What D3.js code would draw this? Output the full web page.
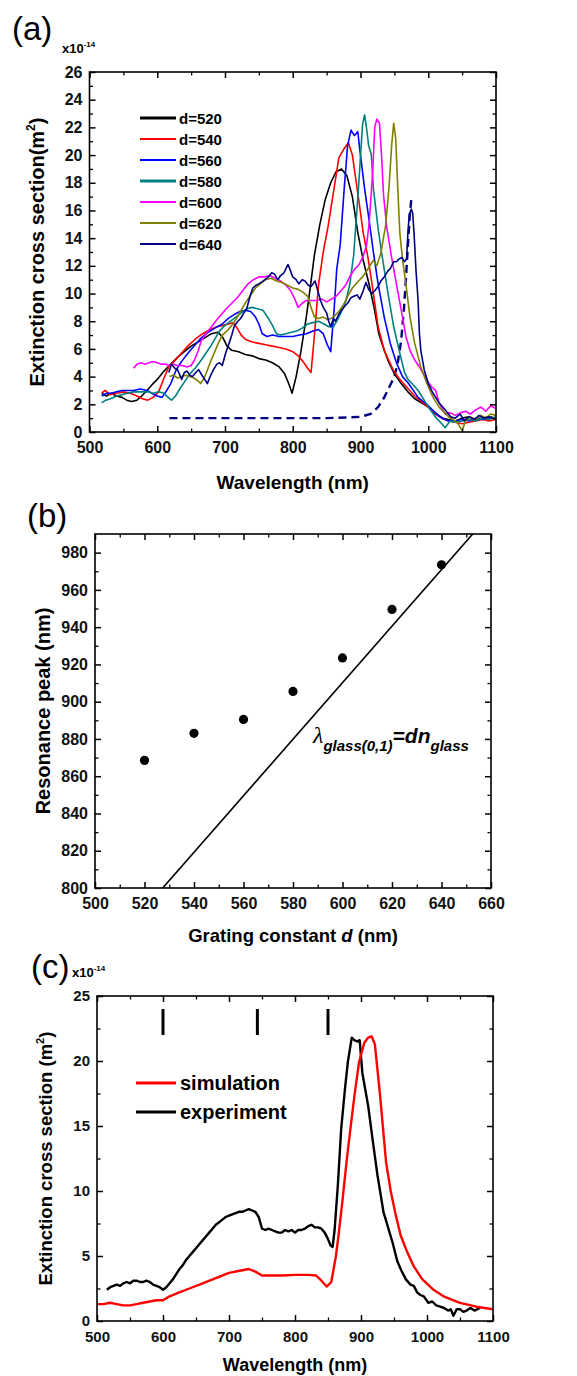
<!DOCTYPE html>
<html lang="en">
<head>
<meta charset="utf-8">
<script src="https://cdn.jsdelivr.net/npm/d3@7"></script>
<style>
  body { margin: 0; background: #fff; }
  svg { display: block; }
  text { font-family: "Liberation Sans", Arial, sans-serif; }
</style>
</head>
<body>
<div id="chart"></div>
<script>
// ---- panel (a): extinction spectra for each grating constant d ----
const seriesNames = ["d=520", "d=540", "d=560", "d=580", "d=600", "d=620", "d=640"];
const seriesColors = ["#000000", "#ff0000", "#0000ff", "#008080", "#ff00ff", "#808000", "#000080"];

const d520 = [[518,2.8],[525,2.6],[532,2.8],[540,2.6],[548,2.5],[555,2.3],[562,2.2],[570,2.3],[577,2.6],[585,3.0],[592,3.4],[600,3.8],[610,4.4],[620,4.9],[630,5.4],[640,5.8],[650,6.2],[660,6.5],[670,6.8],[680,7.1],[690,7.2],[697,6.8],[703,6.2],[710,5.9],[720,5.8],[730,5.6],[740,5.5],[750,5.3],[760,5.2],[770,5.0],[780,4.7],[788,4.2],[794,3.5],[799,2.8],[805,4.0],[812,5.8],[820,8.3],[826,10.5],[832,12.8],[840,15.0],[848,16.8],[856,18.0],[864,18.8],[872,19.0],[880,18.5],[888,17.0],[896,14.4],[904,12.4],[912,10.8],[920,9.0],[927,7.1],[935,5.9],[942,5.0],[950,4.2],[960,3.5],[970,2.9],[980,2.4],[990,2.1],[1000,1.8],[1008,1.5],[1015,1.2],[1022,1.0],[1030,0.9],[1040,0.8],[1050,1.0],[1060,1.1],[1070,0.9],[1080,1.0],[1090,1.1],[1100,1.0]];
const d540 = [[518,2.8],[523,3.0],[530,2.7],[540,2.8],[550,2.9],[560,2.8],[570,2.6],[578,2.4],[586,2.3],[594,2.5],[602,2.9],[610,3.9],[617,4.7],[625,5.1],[634,5.6],[645,6.2],[656,6.7],[667,7.1],[678,7.4],[688,7.6],[697,7.7],[705,7.8],[712,7.9],[718,7.5],[724,7.0],[730,6.7],[740,6.5],[750,6.4],[760,6.3],[770,6.2],[780,6.1],[790,6.0],[800,5.8],[808,5.5],[815,5.1],[822,4.6],[827,4.3],[832,7.0],[838,10.6],[845,13.0],[852,14.8],[861,17.6],[868,19.8],[875,20.4],[882,20.9],[888,20.0],[897,16.9],[904,14.4],[911,12.6],[917,10.7],[926,7.6],[935,5.9],[948,4.5],[958,3.8],[967,3.3],[980,2.6],[990,2.2],[1000,1.8],[1010,1.3],[1020,1.0],[1030,0.8],[1040,0.7],[1050,0.6],[1060,0.7],[1070,0.8],[1080,0.9],[1090,0.8],[1100,0.9]];
const d560 = [[518,2.6],[525,2.8],[532,2.8],[540,2.9],[548,3.0],[556,3.0],[565,3.0],[575,3.1],[585,3.0],[592,2.8],[600,2.6],[607,2.5],[614,3.0],[620,3.5],[628,4.5],[636,5.1],[647,5.8],[656,6.3],[665,6.8],[675,7.2],[685,7.5],[696,7.8],[705,8.2],[714,8.5],[722,8.7],[730,8.8],[738,8.7],[745,8.3],[750,7.8],[755,7.1],[762,6.9],[770,7.0],[780,6.9],[790,6.9],[800,6.9],[810,7.0],[820,7.1],[830,7.3],[838,7.4],[845,7.1],[851,6.3],[856,5.8],[861,8.8],[865,11.8],[870,13.5],[876,17.6],[881,20.7],[886,21.8],[891,21.4],[896,21.7],[899,20.4],[906,17.6],[913,15.2],[919,13.0],[926,10.7],[935,8.3],[944,6.4],[953,5.0],[962,4.0],[971,3.5],[985,2.5],[998,2.0],[1012,1.3],[1020,1.0],[1030,0.8],[1040,0.8],[1050,0.9],[1060,0.8],[1070,1.0],[1080,0.9],[1090,1.0],[1100,1.0]];
const d580 = [[518,2.1],[524,2.3],[531,2.4],[540,2.6],[548,2.7],[556,2.8],[565,2.9],[576,2.9],[586,2.9],[594,2.8],[602,2.9],[610,2.8],[616,2.5],[621,2.3],[627,2.6],[633,3.1],[640,3.6],[648,4.2],[656,4.6],[665,5.2],[672,5.7],[679,6.2],[686,6.8],[692,7.3],[700,7.7],[708,8.0],[716,8.3],[724,8.6],[732,8.9],[740,9.0],[748,8.9],[756,8.8],[764,8.2],[770,7.7],[776,7.1],[782,7.0],[790,7.1],[798,7.2],[806,7.3],[814,7.5],[822,7.8],[830,7.9],[838,8.0],[846,7.8],[853,7.6],[860,7.6],[866,8.1],[872,8.7],[878,9.4],[884,10.6],[890,12.8],[897,17.6],[903,22.2],[906,22.9],[909,21.9],[912,20.7],[916,20.0],[919,17.6],[926,14.7],[931,13.0],[940,10.2],[949,7.6],[958,5.7],[965,4.3],[970,3.8],[976,3.5],[985,3.0],[994,2.3],[1003,1.6],[1012,1.0],[1020,0.6],[1025,0.3],[1032,0.8],[1040,0.7],[1050,0.8],[1060,0.9],[1070,0.8],[1080,1.0],[1090,0.9],[1100,1.1]];
const d600 = [[565,4.6],[570,4.9],[576,5.0],[582,4.9],[588,5.0],[594,5.1],[600,5.0],[606,4.9],[612,4.9],[618,4.8],[624,4.9],[630,4.8],[637,4.8],[644,4.7],[650,4.8],[655,5.2],[660,5.8],[665,6.6],[672,7.1],[680,7.6],[688,8.1],[695,8.5],[702,8.9],[710,9.3],[718,9.7],[726,10.2],[734,10.7],[742,11.0],[750,11.2],[758,11.2],[766,11.3],[774,11.1],[782,10.9],[790,10.6],[797,10.2],[803,9.6],[808,9.0],[814,9.3],[820,9.5],[828,9.5],[836,9.5],[843,9.6],[850,9.4],[857,9.6],[864,9.8],[871,10.2],[878,10.6],[885,11.3],[892,11.8],[898,12.1],[904,12.7],[909,13.5],[913,15.2],[918,18.8],[921,22.0],[924,22.6],[928,22.3],[931,20.0],[934,17.1],[939,14.7],[946,12.6],[953,10.7],[962,8.3],[967,6.9],[973,5.9],[980,5.2],[987,4.7],[994,4.1],[1000,3.6],[1006,3.2],[1011,3.0],[1016,2.1],[1025,1.3],[1032,1.4],[1040,1.2],[1048,1.4],[1055,1.5],[1062,1.3],[1070,1.6],[1078,1.8],[1085,1.5],[1092,1.9],[1100,1.7]];
const d620 = [[618,4.0],[624,4.1],[630,3.9],[636,4.0],[642,4.1],[648,4.0],[654,3.9],[660,3.7],[664,3.5],[668,3.8],[672,4.2],[678,5.0],[684,5.7],[690,6.4],[696,7.0],[703,7.3],[710,7.7],[717,8.2],[724,8.8],[731,9.4],[738,9.9],[745,10.4],[752,10.7],[760,11.0],[768,11.1],[776,10.9],[784,10.8],[792,10.6],[800,10.4],[808,10.3],[815,10.1],[822,9.8],[827,9.0],[832,8.3],[838,8.2],[845,8.3],[852,8.1],[860,8.3],[868,8.7],[875,9.2],[881,9.8],[888,10.4],[895,10.8],[903,11.2],[910,11.7],[915,12.1],[919,12.4],[924,12.0],[930,12.9],[937,14.9],[942,17.6],[946,20.7],[949,22.3],[952,21.2],[955,17.6],[958,14.4],[962,12.5],[967,10.7],[973,8.3],[980,6.4],[989,4.7],[998,3.5],[1007,2.5],[1016,1.8],[1024,1.4],[1030,1.1],[1037,0.9],[1044,0.6],[1050,0.1],[1055,0.8],[1062,1.1],[1070,0.9],[1078,1.2],[1085,1.0],[1092,1.3],[1100,1.2]];
const d640 = [[617,4.3],[621,4.9],[626,4.6],[630,4.5],[636,3.8],[640,4.3],[644,4.4],[648,4.1],[652,4.0],[657,4.3],[661,4.5],[666,4.1],[670,3.8],[674,3.5],[678,4.0],[683,4.5],[688,4.9],[692,5.0],[696,4.8],[701,5.7],[706,6.4],[710,7.0],[714,7.7],[719,8.0],[723,8.2],[728,8.6],[732,8.9],[737,9.8],[741,10.4],[746,10.6],[750,10.7],[756,10.9],[764,11.2],[769,11.5],[773,11.4],[778,11.0],[782,11.3],[787,11.5],[793,12.1],[797,11.6],[800,11.2],[805,11.0],[809,10.7],[814,11.0],[818,10.9],[823,10.6],[827,10.5],[833,10.9],[837,10.2],[841,9.5],[845,9.0],[850,8.6],[853,8.0],[856,7.6],[860,8.2],[863,8.0],[868,8.5],[872,8.8],[877,9.1],[881,9.3],[886,9.7],[890,9.8],[895,9.9],[899,9.6],[904,10.2],[908,10.8],[912,10.3],[917,10.0],[921,10.2],[926,10.5],[930,10.9],[935,11.2],[940,11.6],[944,11.8],[949,12.3],[953,12.3],[957,12.5],[961,12.6],[965,12.3],[968,12.5],[970,14.4],[972,15.7],[975,16.1],[977,15.8],[979,14.4],[982,11.6],[985,9.5],[987,7.1],[989,5.9],[994,4.5],[1000,3.5],[1007,2.8],[1016,2.1],[1025,1.6],[1033,1.1],[1040,1.0],[1047,1.3],[1053,0.8],[1060,1.1],[1068,0.9],[1075,1.2],[1082,1.0],[1090,1.1],[1100,0.9]];
// dashed curve (calculated, d=640)
const d640calc = [[618,1.0],[650,1.0],[700,1.0],[750,1.0],[800,1.0],[850,1.0],[880,1.05],[900,1.1],[915,1.3],[926,1.8],[935,2.5],[942,3.2],[950,4.0],[955,5.0],[960,6.6],[964,8.8],[967,11.0],[970,13.5],[973,15.8],[975,16.8],[977,16.6]];
const seriesA = [d520, d540, d560, d580, d600, d620, d640];

const xTicksA = [500, 600, 700, 800, 900, 1000, 1100];
const xMinorA = d3.range(550, 1100, 100);
const yTicksA = d3.range(0, 27, 2);
const yMinorA = d3.range(1, 26, 2);

// ---- panel (b): resonance peak vs grating constant ----
const gratingD = [520, 540, 560, 580, 600, 620, 640];
const peakNm = [868.5, 883, 890.5, 905.5, 923.5, 949.5, 973.5];
const nGlass = 1.517;
const lineD = [500, 660];
const xTicksB = d3.range(500, 661, 20);
const xMinorB = d3.range(510, 660, 20);
const yTicksB = d3.range(800, 981, 20);
const yMinorB = d3.range(810, 990, 20);

// ---- panel (c): simulation vs experiment ----
const simulation = [[500,1.3],[510,1.3],[520,1.4],[530,1.3],[540,1.2],[550,1.2],[560,1.3],[570,1.4],[580,1.5],[590,1.6],[600,1.6],[610,1.9],[620,2.1],[640,2.5],[660,2.9],[680,3.3],[700,3.7],[720,3.9],[730,4.0],[740,3.8],[750,3.5],[760,3.5],[780,3.5],[800,3.55],[820,3.55],[832,3.5],[840,3.1],[848,2.65],[855,3.0],[862,5.0],[866,6.6],[872,9.3],[878,12.2],[884,14.8],[890,17.3],[897,19.9],[905,21.4],[911,21.8],[916,21.9],[921,21.3],[929,17.3],[938,12.2],[945,10.0],[952,8.3],[960,6.6],[970,5.3],[980,4.2],[993,3.2],[1010,2.4],[1025,1.9],[1050,1.4],[1075,1.1],[1100,0.9]];
const experiment = [[515,2.4],[520,2.6],[525,2.7],[530,2.8],[535,2.7],[540,2.9],[545,3.0],[550,2.9],[555,3.1],[560,3.1],[565,3.0],[570,3.0],[575,3.1],[580,3.0],[585,2.8],[590,2.7],[595,2.6],[600,2.4],[605,2.6],[610,2.9],[615,3.2],[620,3.6],[625,4.0],[630,4.3],[635,4.7],[640,5.0],[645,5.3],[650,5.6],[655,5.9],[660,6.2],[665,6.5],[670,6.8],[675,7.1],[680,7.4],[685,7.6],[690,7.8],[695,8.0],[700,8.1],[705,8.2],[710,8.3],[715,8.4],[720,8.4],[725,8.5],[730,8.6],[735,8.5],[740,8.4],[745,8.0],[750,7.1],[755,7.0],[760,7.1],[765,7.0],[770,6.9],[775,6.8],[780,6.8],[785,7.0],[790,6.9],[795,7.0],[800,6.8],[805,7.0],[810,7.0],[815,7.1],[820,7.3],[825,7.4],[830,7.2],[835,7.2],[840,7.1],[845,6.8],[850,6.3],[854,5.8],[857,5.7],[860,7.0],[865,10.5],[870,14.8],[876,18.0],[880,19.9],[886,21.8],[890,21.6],[894,21.5],[898,21.6],[902,19.1],[911,16.5],[918,13.8],[925,11.2],[934,8.4],[941,7.2],[948,6.0],[955,4.6],[961,3.9],[968,3.2],[975,2.8],[980,2.7],[985,2.2],[990,2.0],[995,1.9],[1002,1.4],[1008,1.5],[1014,1.2],[1020,1.1],[1026,1.0],[1032,0.8],[1036,0.9],[1040,0.4],[1045,0.9],[1050,0.9],[1055,0.7],[1060,0.8],[1066,1.0],[1072,0.8],[1080,1.0]];
const markNm = [600, 743, 850];
const markRange = [22, 24];
const legendC = ["simulation", "experiment"];
const colorsC = ["#ff0000", "#000000"];
const xTicksC = [500, 600, 700, 800, 900, 1000, 1100];
const xMinorC = d3.range(550, 1100, 100);
const yTicksC = [0, 5, 10, 15, 20, 25];
const yMinorC = [2.5, 7.5, 12.5, 17.5, 22.5];

// ---- layout ----
const width = 577, height = 1376;
const PA = {left: 89.5, right: 496, top: 72, bottom: 432};
const PB = {left: 95, right: 491, top: 534, bottom: 888};
const PC = {left: 97, right: 493, top: 996, bottom: 1321};

const svg = d3.select("#chart").append("svg")
    .attr("width", width)
    .attr("height", height);

// draws a boxed frame with inward ticks on all four sides
function frame(P, x, y, o) {
    const g = svg.append("g");
    const sides = [
        {ax: d3.axisBottom, sc: x, tr: `translate(0,${P.bottom})`, major: o.xMajor, minor: o.xMinor, lab: true},
        {ax: d3.axisTop, sc: x, tr: `translate(0,${P.top})`, major: o.xMajor, minor: o.xMinor, lab: false},
        {ax: d3.axisLeft, sc: y, tr: `translate(${P.left},0)`, major: o.yMajor, minor: o.yMinor, lab: true},
        {ax: d3.axisRight, sc: y, tr: `translate(${P.right},0)`, major: o.yMajor, minor: o.yMinor, lab: false}
    ];
    sides.forEach(s => {
        const maj = g.append("g").attr("transform", s.tr)
            .call(s.ax(s.sc).tickValues(s.major).tickSize(-6).tickPadding(s.ax === d3.axisLeft ? 7 : 10)
                .tickFormat(s.lab ? d3.format("d") : ""));
        maj.select(".domain").remove();
        maj.selectAll("line").attr("stroke-width", 1.5);
        maj.selectAll("text")
            .attr("font-family", "Liberation Sans, Arial, sans-serif")
            .attr("font-size", o.fs).attr("font-weight", "bold").attr("fill", "#111");
        const mnr = g.append("g").attr("transform", s.tr)
            .call(s.ax(s.sc).tickValues(s.minor).tickSize(-3.5).tickFormat(""));
        mnr.select(".domain").remove();
        mnr.selectAll("line").attr("stroke-width", 1.3);
    });
    g.append("rect")
        .attr("x", P.left).attr("y", P.top)
        .attr("width", P.right - P.left).attr("height", P.bottom - P.top)
        .attr("fill", "none").attr("stroke", "#000").attr("stroke-width", 1.6);
    return g;
}

function clip(id, P) {
    svg.append("clipPath").attr("id", id).append("rect")
        .attr("x", P.left).attr("y", P.top)
        .attr("width", P.right - P.left).attr("height", P.bottom - P.top);
}

function yTitle(txt, cx, cy, fs, sup) {
    const t = svg.append("text")
        .attr("transform", `translate(${cx},${cy}) rotate(-90)`)
        .attr("text-anchor", "middle")
        .attr("font-size", fs).attr("font-weight", "bold");
    t.append("tspan").text(txt);
    if (sup) {
        t.append("tspan").attr("font-size", fs * 0.6).attr("dy", -fs * 0.45).text("2");
        t.append("tspan").attr("dy", fs * 0.45).text(")");
    }
}

function scaleNote(x0, y0) {
    const t = svg.append("text").attr("x", x0).attr("y", y0)
        .attr("font-size", 13).attr("font-weight", "bold");
    t.append("tspan").text("x10");
    t.append("tspan").attr("font-size", 8).attr("dy", -6).text("-14");
}

function panelLabel(txt, x0, y0) {
    svg.append("text").attr("x", x0).attr("y", y0)
        .attr("font-size", 33).text(txt);
}

// ================= panel (a) =================
const xA = d3.scaleLinear().domain([500, 1100]).range([PA.left, PA.right]);
const yA = d3.scaleLinear().domain([0, 26]).range([PA.bottom, PA.top]);
clip("clipA", PA);

const lineA = d3.line().x(d => xA(d[0])).y(d => yA(d[1]));
const curvesA = svg.append("g").attr("clip-path", "url(#clipA)");
curvesA.append("path")
    .attr("d", lineA(d640calc))
    .attr("fill", "none").attr("stroke", "#000080")
    .attr("stroke-width", 2.4).attr("stroke-dasharray", "8,5");
seriesA.forEach((s, i) => {
    curvesA.append("path")
        .attr("d", lineA(s))
        .attr("fill", "none")
        .attr("stroke", seriesColors[i])
        .attr("stroke-width", 1.6)
        .attr("stroke-linejoin", "round");
});
frame(PA, xA, yA, {xMajor: xTicksA, xMinor: xMinorA, yMajor: yTicksA, yMinor: yMinorA, fs: 16});

// legend (a)
const legA = svg.append("g");
seriesNames.forEach((n, i) => {
    const ly = 118 + i * 21;
    legA.append("line").attr("x1", 140).attr("x2", 176).attr("y1", ly).attr("y2", ly)
        .attr("stroke", seriesColors[i]).attr("stroke-width", i === 0 || i === 3 ? 3 : 2.2);
    legA.append("text").attr("x", 179).attr("y", ly + 5.5)
        .attr("font-size", 15).attr("font-weight", "bold").text(n);
});

svg.append("text").attr("x", (PA.left + PA.right) / 2).attr("y", 489)
    .attr("text-anchor", "middle").attr("font-size", 19).attr("font-weight", "bold")
    .text("Wavelength (nm)");
yTitle("Extinction cross section(m", 44, (PA.top + PA.bottom) / 2, 20, true);
scaleNote(62, 53);
panelLabel("(a)", 12, 40);

// ================= panel (b) =================
const xB = d3.scaleLinear().domain([500, 660]).range([PB.left, PB.right]);
const yB = d3.scaleLinear().domain([800, 990]).range([PB.bottom, PB.top]);
clip("clipB", PB);

svg.append("path")
    .attr("clip-path", "url(#clipB)")
    .attr("d", d3.line().x(d => xB(d)).y(d => yB(d * nGlass))(lineD))
    .attr("fill", "none").attr("stroke", "#000").attr("stroke-width", 1.6);

svg.append("g").selectAll("circle")
    .data(gratingD)
    .enter().append("circle")
    .attr("cx", d => xB(d))
    .attr("cy", (d, i) => yB(peakNm[i]))
    .attr("r", 4.6)
    .attr("fill", "#000");
frame(PB, xB, yB, {xMajor: xTicksB, xMinor: xMinorB, yMajor: yTicksB, yMinor: yMinorB, fs: 16});

// annotation
const ann = svg.append("text").attr("x", 313).attr("y", 743)
    .attr("font-weight", "bold").attr("font-style", "italic");
ann.append("tspan").attr("font-family", "Liberation Serif, Times New Roman, serif")
    .attr("font-weight", "normal").attr("font-size", 24).text("λ");
ann.append("tspan").attr("font-size", 15).attr("dy", 8).text("glass(0,1)");
ann.append("tspan").attr("font-size", 21).attr("dy", -8).text("=dn");
ann.append("tspan").attr("font-size", 15).attr("dy", 8).text("glass");

const xtB = svg.append("text").attr("x", (PB.left + PB.right) / 2).attr("y", 942)
    .attr("text-anchor", "middle").attr("font-size", 18.5).attr("font-weight", "bold");
xtB.append("tspan").text("Grating constant ");
xtB.append("tspan").attr("font-style", "italic").text("d");
xtB.append("tspan").text(" (nm)");
yTitle("Resonance peak (nm)", 50, (PB.top + PB.bottom) / 2, 20, false);
panelLabel("(b)", 27, 527);

// ================= panel (c) =================
const xC = d3.scaleLinear().domain([500, 1100]).range([PC.left, PC.right]);
const yC = d3.scaleLinear().domain([0, 25]).range([PC.bottom, PC.top]);
clip("clipC", PC);

const lineC = d3.line().x(d => xC(d[0])).y(d => yC(d[1]));
const curvesC = svg.append("g").attr("clip-path", "url(#clipC)");
[experiment, simulation].forEach((s, i) => {
    curvesC.append("path").attr("d", lineC(s))
        .attr("fill", "none")
        .attr("stroke", i === 0 ? colorsC[1] : colorsC[0])
        .attr("stroke-width", 2.4)
        .attr("stroke-linejoin", "round");
});
svg.append("g").selectAll("line")
    .data(markNm)
    .enter().append("line")
    .attr("x1", d => xC(d)).attr("x2", d => xC(d))
    .attr("y1", yC(markRange[0])).attr("y2", yC(markRange[1]))
    .attr("stroke", "#000").attr("stroke-width", 3);
frame(PC, xC, yC, {xMajor: xTicksC, xMinor: xMinorC, yMajor: yTicksC, yMinor: yMinorC, fs: 15});

legendC.forEach((n, i) => {
    const ly = 1083 + i * 29;
    svg.append("line").attr("x1", 136).attr("x2", 176).attr("y1", ly).attr("y2", ly)
        .attr("stroke", colorsC[i]).attr("stroke-width", 3);
    svg.append("text").attr("x", 180).attr("y", ly + 7)
        .attr("font-size", 20).attr("font-weight", "bold").text(n);
});

svg.append("text").attr("x", (PC.left + PC.right) / 2).attr("y", 1371)
    .attr("text-anchor", "middle").attr("font-size", 18).attr("font-weight", "bold")
    .text("Wavelength (nm)");
yTitle("Extinction cross section (m", 52, (PC.top + PC.bottom) / 2, 18.5, true);
scaleNote(72, 977);
panelLabel("(c)", 31, 978);
</script>
</body>
</html>
